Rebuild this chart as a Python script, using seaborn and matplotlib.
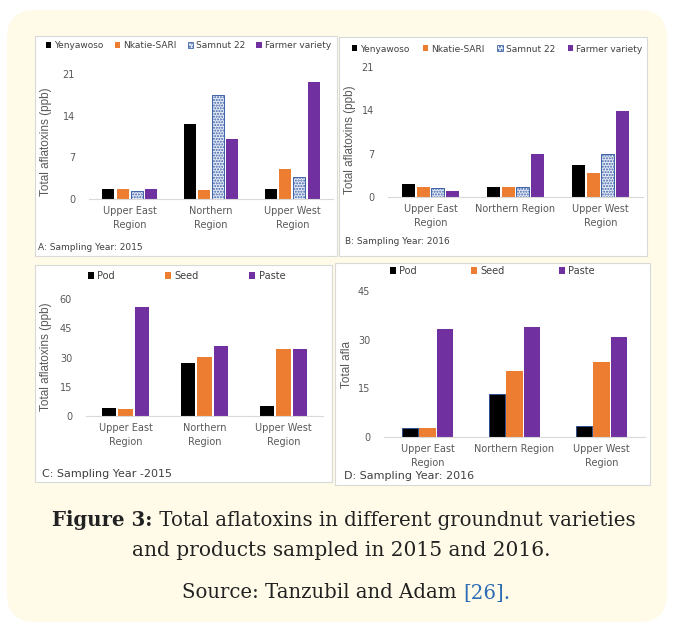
import pandas as pd
import matplotlib.pyplot as plt
import seaborn as sns
from matplotlib.patches import Patch, Rectangle, FancyBboxPatch
from matplotlib.transforms import IdentityTransform

# figure size in pixels
W, H = 673, 624

# categories
regions_wrap = ['Upper East\nRegion', 'Northern\nRegion', 'Upper West\nRegion']
regions_flat = ['Upper East\nRegion', 'Northern Region', 'Upper West\nRegion']
varieties = ['Yenyawoso', 'Nkatie-SARI', 'Samnut 22', 'Farmer variety']
products = ['Pod', 'Seed', 'Paste']

# A: varieties, 2015 (Upper East, Northern, Upper West)
yen_2015 = [1.7, 12.6, 1.6]
nkatie_2015 = [1.7, 1.5, 5.0]
samnut_2015 = [1.4, 17.5, 3.7]
farmer_2015 = [1.7, 10.1, 19.7]

# B: varieties, 2016
yen_2016 = [2.1, 1.6, 5.2]
nkatie_2016 = [1.6, 1.6, 3.9]
samnut_2016 = [1.45, 1.6, 6.9]
farmer_2016 = [1.0, 6.9, 13.9]

# C: products, 2015
pod_2015 = [4.2, 27.0, 4.9]
seed_2015 = [3.4, 30.3, 34.3]
paste_2015 = [55.8, 35.9, 34.3]

# D: products, 2016
pod_2016 = [2.8, 13.4, 3.5]
seed_2016 = [2.8, 20.4, 23.1]
paste_2016 = [33.2, 33.9, 30.7]

ticks_var = [0, 7, 14, 21]
ticks_c = [0, 15, 30, 45, 60]
ticks_d = [0, 15, 30, 45]

colors_var = ['#000000', '#ed7d31', '#e6ecf7', '#7030a0']
colors_prod = ['#000000', '#ed7d31', '#7030a0']

TICK = '#595959'
GRID = '#d9d9d9'
LABEL_FONT = ['Liberation Sans', 'DejaVu Sans']
CAP_FONT = ['DejaVu Serif']


def long_df(regions, groups, series):
    rows = []
    for g, vals in zip(groups, series):
        for r, v in zip(regions, vals):
            rows.append({'region': r, 'group': g, 'value': v})
    return pd.DataFrame(rows)


def frac(x0, y0, x1, y1):
    # pixel box (top-down) -> figure fraction rect
    return [x0 / W, 1 - y1 / H, (x1 - x0) / W, (y1 - y0) / H]


sns.set_theme(style='white')
plt.rcParams['font.family'] = ['DejaVu Sans']

fig = plt.figure(figsize=(W / 100, H / 100), dpi=100)
fig.patch.set_facecolor('white')

# cream rounded background
fig.add_artist(FancyBboxPatch((7, 2), 660, 612, boxstyle='round,pad=0,rounding_size=28',
                              transform=IdentityTransform(), facecolor='#fffbe8',
                              edgecolor='none', zorder=-3))


def panel(box, axbox, regions, groups, series, colors, ticks, width, gap,
          ylabel, ylab_xy, caption, cap_xy, cap_size, leg_xy, leg_size, colspace):
    x0, y0, x1, y1 = box
    fig.add_artist(Rectangle((x0 / W, 1 - y1 / H), (x1 - x0) / W, (y1 - y0) / H,
                             transform=fig.transFigure, facecolor='white',
                             edgecolor=GRID, linewidth=0.8, zorder=-2))
    ax = fig.add_axes(frac(*axbox))
    ax.set_facecolor('none')
    df = long_df(regions, groups, series)
    sns.barplot(data=df, x='region', y='value', hue='group', order=regions,
                hue_order=groups, palette=colors, width=width, gap=gap, saturation=1,
                linewidth=0, legend=False, ax=ax)
    ax.set_ylim(0, ticks[-1])
    ax.set_xlim(-0.5, 2.5)
    ax.set_yticks(ticks)
    ax.tick_params(axis='both', length=0, labelsize=7, labelcolor=TICK)
    ax.tick_params(axis='y', pad=10)
    ax.tick_params(axis='x', pad=5)
    ax.set_xlabel('')
    ax.set_ylabel('')
    for s in ['top', 'right', 'left']:
        ax.spines[s].set_visible(False)
    ax.spines['bottom'].set_color(GRID)
    ax.spines['bottom'].set_linewidth(0.8)
    for lab in ax.get_xticklabels():
        lab.set_linespacing(1.5)

    handles = [Patch(facecolor=c, edgecolor='none', label=g) for g, c in zip(groups, colors)]
    if 'Samnut 22' in groups:
        for bar in ax.containers[groups.index('Samnut 22')]:
            bar.set_hatch('......')
            bar.set_edgecolor('#3f63a8')
            bar.set_linewidth(0.7)
        handles[2] = Patch(facecolor=colors[2], edgecolor='#3f63a8', hatch='.....',
                           linewidth=0.6, label='Samnut 22')
    ax.legend(handles=handles, loc='center left', bbox_to_anchor=(leg_xy[0] / W, 1 - leg_xy[1] / H),
              bbox_transform=fig.transFigure, ncol=len(groups), frameon=False,
              fontsize=leg_size, handlelength=0.6, handleheight=0.6, handletextpad=0.35,
              columnspacing=colspace, borderpad=0, borderaxespad=0, labelcolor='#404040')

    fig.text(ylab_xy[0] / W, 1 - ylab_xy[1] / H, ylabel, rotation=90, ha='center', va='center',
             fontsize=8.5, color=TICK, family=LABEL_FONT)
    fig.text(cap_xy[0] / W, 1 - cap_xy[1] / H, caption, ha='left', va='center',
             fontsize=cap_size, color='#404040')
    return ax


series_a = [yen_2015, nkatie_2015, samnut_2015, farmer_2015]
series_b = [yen_2016, nkatie_2016, samnut_2016, farmer_2016]
series_c = [pod_2015, seed_2015, paste_2015]
series_d = [pod_2016, seed_2016, paste_2016]

panel((35, 36, 337, 256), (89, 74, 333, 199), regions_wrap, varieties, series_a, colors_var,
      ticks_var, 0.7, 0.16, 'Total aflatoxins (ppb)', (46, 142), 'A: Sampling Year: 2015',
      (38, 248), 6.5, (46, 46), 6.5, 1.2)
panel((339, 37, 647, 256), (388, 67, 643, 197), regions_flat, varieties, series_b, colors_var,
      ticks_var, 0.69, 0.12, 'Total aflatoxins (ppb)', (350, 140), 'B: Sampling Year: 2016',
      (345, 242), 6.5, (352, 49), 6.5, 1.4)
panel((35, 265, 332, 482), (86, 299, 323, 416), regions_wrap, products, series_c, colors_prod,
      ticks_c, 0.62, 0.14, 'Total aflatoxins (ppb)', (46, 357), 'C: Sampling Year -2015',
      (42, 474), 8, (88, 276), 7, 5.2)
axd = panel((335, 263, 650, 485), (384, 291, 645, 437), regions_flat, products, series_d, colors_prod,
            ticks_d, 0.62, 0.11, 'Total afla', (347, 364), 'D: Sampling Year: 2016',
            (344, 476), 8, (390, 271), 7, 5.6)
for bar in axd.containers[0]:
    bar.set_edgecolor('#2f4f8f')
    bar.set_linewidth(0.7)

# caption: bold "Figure 3:" followed by regular text, centered as one line
CX = 344
renderer = fig.canvas.get_renderer()
t1 = fig.text(0, 1 - 520 / H, 'Figure 3:', fontsize=14.2, weight='bold', family=CAP_FONT,
              va='center', color='#222222')
t2 = fig.text(0, 1 - 520 / H, ' Total aflatoxins in different groundnut varieties', fontsize=14.2,
              family=CAP_FONT, va='center', color='#222222')
w1 = t1.get_window_extent(renderer).width
w2 = t2.get_window_extent(renderer).width
start = CX - (w1 + w2) / 2
t1.set_x(start / W)
t2.set_x((start + w1) / W)
fig.text(341 / W, 1 - 550 / H, 'and products sampled in 2015 and 2016.', fontsize=14.5,
         family=CAP_FONT, ha='center', va='center', color='#222222')

s1 = fig.text(0, 1 - 593 / H, 'Source: Tanzubil and Adam ', fontsize=14.2, family=CAP_FONT,
              va='center', color='#222222')
s2 = fig.text(0, 1 - 593 / H, '[26].', fontsize=14.2, family=CAP_FONT, va='center', color='#2e6db4')
w1 = s1.get_window_extent(renderer).width
w2 = s2.get_window_extent(renderer).width
start = CX + 2 - (w1 + w2) / 2
s1.set_x(start / W)
s2.set_x((start + w1) / W)

plt.savefig('out.png', dpi=100)
